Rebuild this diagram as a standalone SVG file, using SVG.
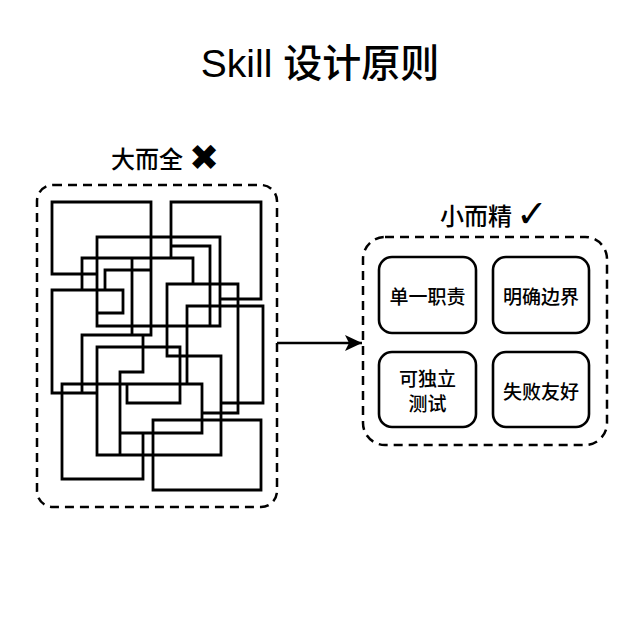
<svg xmlns="http://www.w3.org/2000/svg" width="640" height="640" viewBox="0 0 640 640">
<style>
.t{font-family:"Liberation Sans","Noto Sans CJK SC",sans-serif;fill:#000;font-weight:500}
.cjk{font-family:"Noto Sans CJK SC",sans-serif;fill:#000;font-weight:500}
.sym{font-family:"DejaVu Sans",sans-serif;fill:#000;text-anchor:middle;dominant-baseline:central}
.dash{fill:none;stroke:#000;stroke-width:2.5;stroke-dasharray:9 6}
.box{fill:#fff;stroke:#000;stroke-width:2.6}
.tangle{fill:none;stroke:#000;stroke-width:2.8;stroke-linecap:square}
.lbl{font-size:19px;text-anchor:middle;dominant-baseline:central}
.head{font-size:24px;dominant-baseline:central}
</style>
<defs>
<marker id="ah" markerWidth="18" markerHeight="16" refX="17" refY="8" orient="auto" markerUnits="userSpaceOnUse">
<path d="M0,0 L17,8 L0,16 L4,8 Z" fill="#000"/>
</marker>
</defs>
<rect width="640" height="640" fill="#fff"/>
<text class="t" x="320" y="77" font-size="39" text-anchor="middle">Skill 设计原则</text>

<g id="big">
<text class="cjk head" x="111" y="157">大而全</text>
<text class="sym" x="204" y="157" font-size="36">✖</text>
<rect class="dash" x="37" y="185" width="240" height="322" rx="16"/>
<path class="tangle" d="
M52 202H151 M171 202H261 M97 237H220 M171 246H210 M82 258H193 M105 270H151 M52 274H97
M167 284H238 M52 290H123 M220 299H261 M187 306H263 M97 313H123 M97 326H220 M82 335H151
M97 347H180 M167 356H221 M120 372H143 M62 384H202 M52 393H97 M127 403H180 M221 403H263
M202 413H238 M153 420H261 M120 433H202 M97 455H221 M62 479H143 M153 490H261
M52 202V274 M151 202V335 M171 202V258 M261 202V299 M97 237V326 M220 237V326 M210 246V326
M82 258V290 M193 258V284 M105 270V290 M132 258V335 M123 290V313 M52 290V393 M167 284V356
M238 284V413 M187 306V384 M263 306V403 M143 335V372 M82 335V393 M62 384V479 M97 347V455
M120 372V455 M180 347V403 M127 384V403 M202 384V433 M221 356V455 M153 420V490 M261 420V490
M143 433V479"/>
</g>

<g id="connectors">
<line x1="277" y1="343" x2="362" y2="343" stroke="#000" stroke-width="2.5" marker-end="url(#ah)"/>
</g>

<g id="small">
<text class="cjk head" x="440" y="214">小而精</text>
<text class="sym" x="532" y="214" font-size="38" font-weight="bold">✓</text>
<rect class="dash" x="363" y="237" width="244" height="208" rx="22"/>
</g>

<g id="n1">
<rect class="box" x="379" y="257" width="97" height="76" rx="13"/>
<text class="cjk lbl" x="427.5" y="295">单一职责</text>
</g>
<g id="n2">
<rect class="box" x="493" y="257" width="96" height="76" rx="13"/>
<text class="cjk lbl" x="541" y="295">明确边界</text>
</g>
<g id="n3">
<rect class="box" x="379" y="352" width="97" height="75" rx="13"/>
<text class="cjk lbl" x="427.5" y="377.5">可独立</text>
<text class="cjk lbl" x="427.5" y="402">测试</text>
</g>
<g id="n4">
<rect class="box" x="493" y="352" width="96" height="75" rx="13"/>
<text class="cjk lbl" x="541" y="390">失败友好</text>
</g>
</svg>
